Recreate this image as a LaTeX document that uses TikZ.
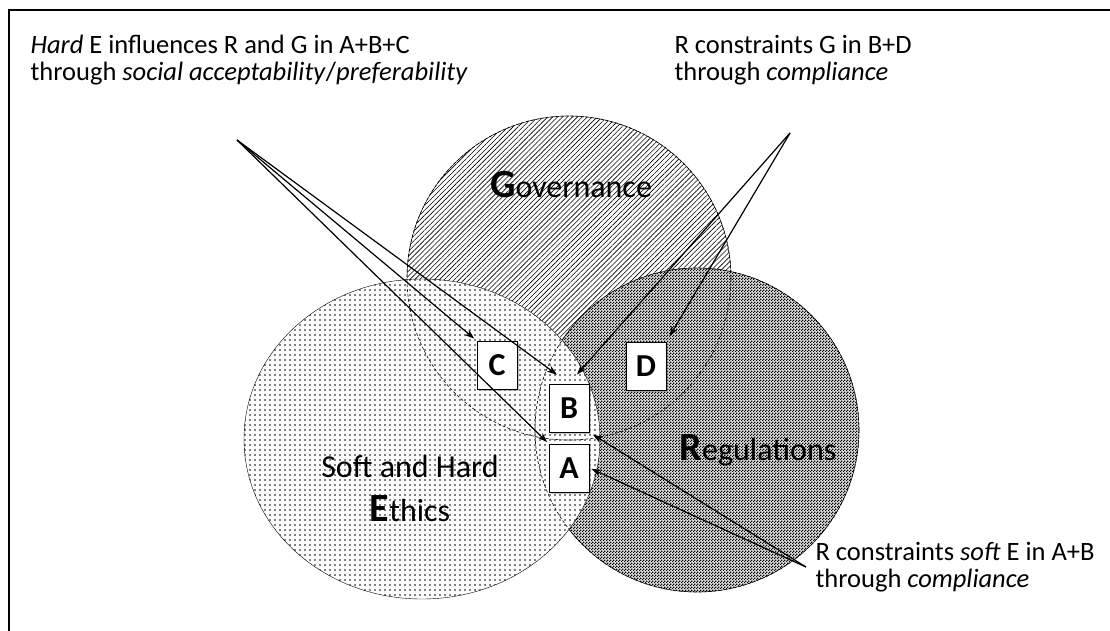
\documentclass[tikz,border=0pt]{standalone}
\usepackage{fontspec}
\setmainfont{Carlito}
\usetikzlibrary{patterns, patterns.meta, arrows.meta, shadows}

\pgfdeclarepatternformonly{checker}{\pgfqpoint{0pt}{0pt}}{\pgfqpoint{3pt}{3pt}}{\pgfqpoint{3pt}{3pt}}{
	\pgfpathrectangle{\pgfqpoint{0pt}{0pt}}{\pgfqpoint{1.5pt}{1.5pt}}
	\pgfpathrectangle{\pgfqpoint{1.5pt}{1.5pt}}{\pgfqpoint{1.5pt}{1.5pt}}
	\pgfusepath{fill}
}

\newcommand{\bigfirst}[1]{{\fontsize{40}{40}\selectfont\bfseries #1}}

\begin{document}
\begin{tikzpicture}[x = 1pt, y = -1pt, font = \fontsize{26.5}{27}\selectfont,
	letterbox/.style = {draw, line width = 1pt, fill = white, minimum width = 40pt, minimum height = 48pt, inner sep = 0pt,
		font = \fontsize{32}{32}\selectfont\bfseries, drop shadow = {shadow xshift = 1.5pt, shadow yshift = -1.5pt, opacity = 0.45}},
	pointer/.style = {line width = 1.2pt, -{Stealth[length = 10pt, width = 7pt]}},
	hidden/.style = {dash pattern = on 3pt off 2pt, line width = 0.6pt},
	biglabel/.style = {font = \fontsize{32}{44}\selectfont, align = center},
	note/.style = {anchor = west, align = left}]

	\useasboundingbox (0, 0) rectangle (1110, 630);
	\draw [line width = 2pt] (9, 640) -- (9, 10) -- (1120, 10);

	\coordinate (gov) at (569, 278);
	\coordinate (reg) at (697, 430);
	\coordinate (eth) at (422, 439);

	\draw [preaction = {fill = white}, pattern = {Lines[angle = 45, distance = 3.5pt, line width = 0.6pt]}] (gov) circle [radius = 162pt];
	\draw [preaction = {fill = gray!25}, pattern = checker] (reg) circle [radius = 162pt];
	\draw [preaction = {fill = white}, pattern = {Dots[distance = 5pt, radius = 0.85pt]}] (eth) ellipse [x radius = 178pt, y radius = 160pt];
	\draw [hidden] (gov) circle [radius = 162pt] (reg) circle [radius = 162pt];

	\node [biglabel] (govlabel) at (571, 185) {\bigfirst{G}overnance};
	\node [biglabel] (reglabel) at (758, 450) {\bigfirst{R}egulations};
	\node [biglabel] (ethlabel) at (410, 488) {Soft and Hard\\\bigfirst{E}thics};

	\node [letterbox] (C) at (497, 365) {C};
	\node [letterbox] (D) at (646, 366) {D};
	\node [letterbox] (B) at (569, 408) {B};
	\node [letterbox] (A) at (569, 468) {A};

	\node [note] (hardnote) at (27, 60) {\textit{Hard} E influences R and G in A+B+C\\through \textit{social acceptability}/\textit{preferability}};
	\node [note] (govnote) at (671, 60) {R constraints G in B+D\\through \textit{compliance}};
	\node [note] (softnote) at (812, 567) {R constraints \textit{soft} E in A+B\\through \textit{compliance}};

	\coordinate (hardfrom) at (237, 140);
	\coordinate (govfrom) at (790, 133);
	\coordinate (softfrom) at (806, 567);

	\draw [pointer, shorten > = 3pt] (hardfrom) -- (C.north west);
	\draw [pointer, shorten > = 15pt] (hardfrom) -- (B.north);
	\draw [pointer, shorten > = 2pt] (hardfrom) -- (A.north west);
	\draw [pointer, shorten > = 6pt] (govfrom) -- (D.north east);
	\draw [pointer, shorten > = 12pt] (govfrom) -- (B.north);
	\draw [pointer, shorten > = 4pt] (softfrom) -- (B.south east);
	\draw [pointer, shorten > = 2pt] (softfrom) -- (A.east);

\end{tikzpicture}
\end{document}
